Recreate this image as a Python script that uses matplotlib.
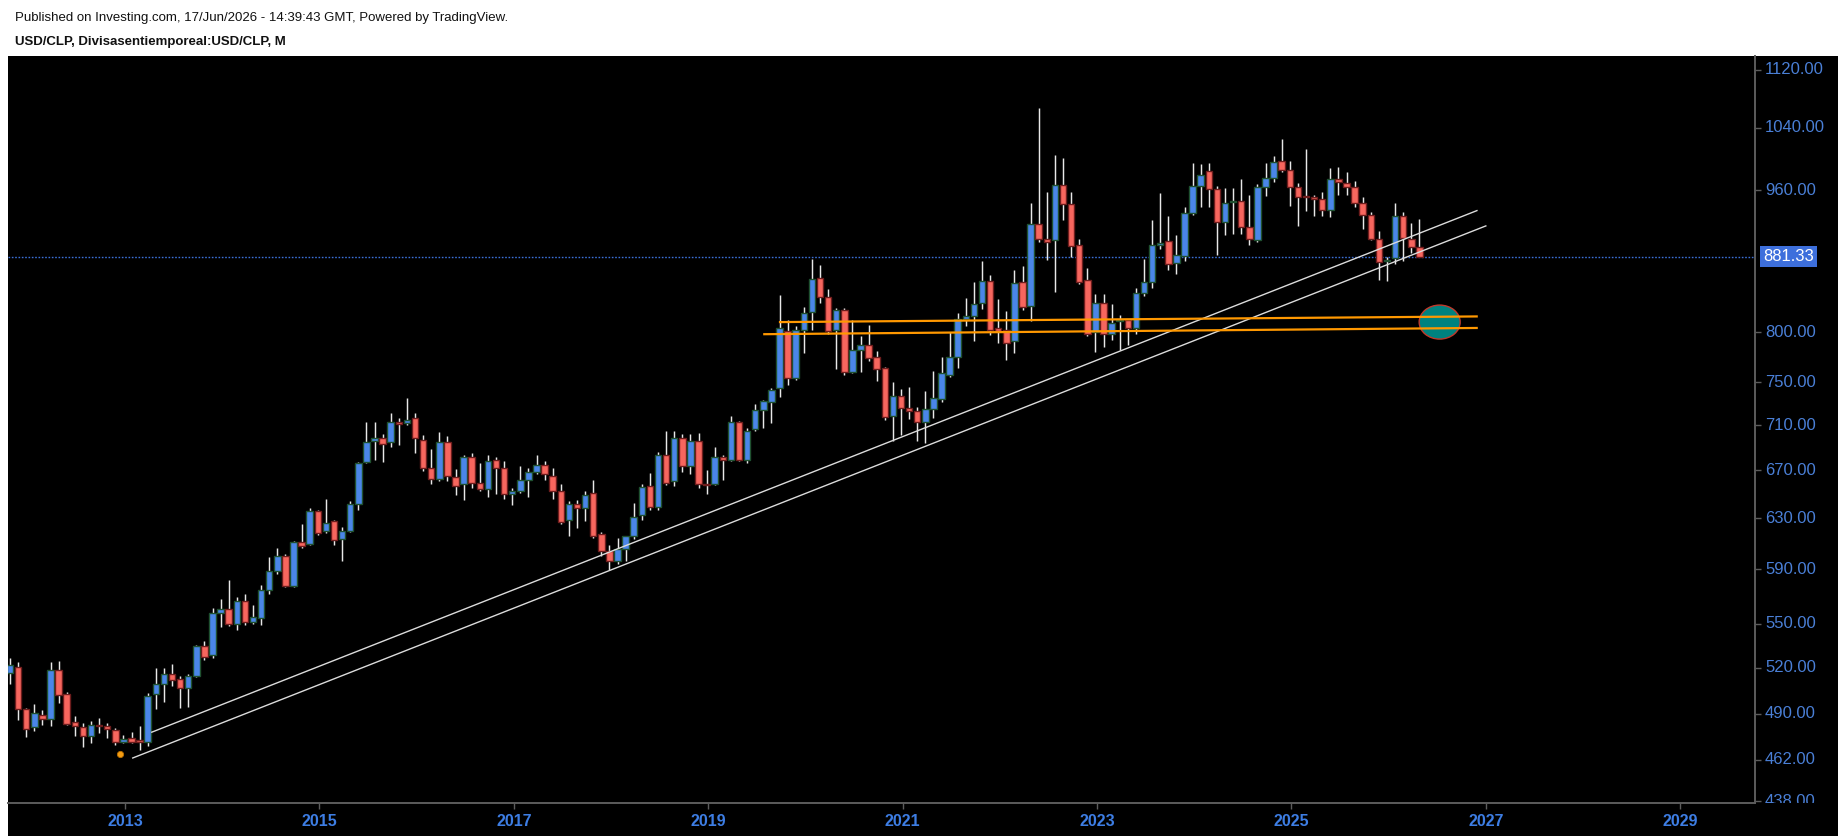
import numpy as np
import pandas as pd
import matplotlib
matplotlib.use("Agg")
import matplotlib.pyplot as plt
from matplotlib.patches import Rectangle, Ellipse
from matplotlib.transforms import blended_transform_factory, Bbox, TransformedBbox
from matplotlib.ticker import NullLocator, NullFormatter, FixedLocator

plt.rcParams['font.family'] = ['Liberation Sans', 'DejaVu Sans']

# ---------------- data (monthly USD/CLP candles) ----------------
months = pd.period_range('2011-11', periods=175, freq='M')

open_ = [516.5, 520.5, 492.8, 481.7, 489.5, 486.5, 518.7, 502.8, 485.1, 481.7, 476.2, 483.1, 482.6, 479.9,
         472.6, 475.2, 473.6, 472.6, 502.4, 509.4, 515.4, 512.6, 506.5, 514.2,
         534.5, 528.2, 557.6, 560.9, 550.1, 566.2, 551.2, 553.9, 574.1, 588.4,
         599.9, 577.4, 610.8, 609.5, 635.5, 619.5, 627.6, 613.6, 620.0, 641.6,
         677.4, 695.5, 698.0, 694.3, 713.0, 712.0, 716.4, 696.7, 672.2, 662.8,
         694.6, 664.2, 658.2, 681.8, 659.1, 654.1, 678.5, 672.2, 650.0, 652.6,
         661.9, 668.3, 674.5, 665.3, 651.9, 628.2, 641.6, 638.3, 650.6, 617.2,
         604.3, 596.3, 605.4, 615.3, 632.2, 656.6, 639.2, 683.3, 660.5, 698.4,
         673.7, 695.8, 658.0, 658.0, 681.8, 679.0, 712.4, 679.0, 706.3, 724.1,
         731.6, 744.4, 800.8, 753.7, 802.3, 821.0, 857.8, 836.5, 802.3, 823.0,
         760.4, 781.3, 786.7, 774.7, 764.4, 718.4, 737.3, 725.7, 723.2, 713.0,
         724.7, 734.0, 757.4, 774.7, 813.4, 816.2, 830.0, 854.7, 804.0, 802.3,
         790.4, 853.2, 827.0, 918.6, 902.0, 900.5, 966.5, 942.5, 894.2, 854.9,
         800.0, 830.6, 798.2, 811.3, 812.0, 804.0, 840.7, 853.5, 894.2, 898.8,
         874.0, 882.3, 932.6, 965.2, 983.9, 961.8, 921.0, 945.0, 946.0, 916.0,
         900.5, 963.5, 974.5, 996.0, 985.0, 963.6, 952.3, 951.0, 948.5, 935.8,
         974.0, 968.6, 963.5, 943.8, 930.0, 901.0, 876.5, 879.7, 928.6, 901.3,
         891.8]

high = [526.6, 523.4, 493.5, 496.4, 492.4, 523.8, 524.7, 504.0, 488.6, 484.1, 485.4, 487.5, 484.1, 481.4,
        477.0, 478.9, 482.7, 503.6, 519.8, 519.8, 522.7, 514.6, 515.7, 535.5,
        538.2, 561.0, 568.0, 581.7, 569.5, 571.8, 563.3, 578.4, 599.4, 606.3,
        602.0, 611.5, 625.1, 638.3, 636.5, 645.9, 628.5, 623.0, 644.0, 677.4,
        712.7, 712.7, 701.9, 721.0, 716.4, 735.5, 721.0, 701.3, 688.4, 703.5,
        700.4, 671.0, 683.6, 685.0, 675.8, 683.6, 681.4, 678.3, 655.0, 673.8,
        672.2, 683.6, 678.3, 672.2, 658.5, 643.7, 644.5, 652.4, 661.4, 618.7,
        609.0, 614.0, 616.0, 642.4, 658.5, 667.6, 685.7, 704.8, 704.8, 702.0,
        701.9, 702.8, 670.4, 689.9, 683.3, 718.4, 714.0, 707.2, 729.5, 733.0,
        745.0, 839.5, 812.7, 806.0, 826.5, 878.5, 872.0, 845.0, 825.0, 825.0,
        812.7, 795.5, 807.6, 780.3, 765.2, 749.9, 743.6, 745.8, 726.5, 742.0,
        761.2, 774.7, 799.9, 819.7, 835.4, 852.7, 876.5, 860.4, 835.0, 822.0,
        866.5, 871.3, 944.0, 1067.0, 957.0, 1004.0, 1000.0, 957.0, 901.5, 868.7,
        840.0, 840.0, 829.5, 818.0, 813.4, 846.4, 878.5, 923.9, 956.0, 928.6,
        905.8, 939.0, 994.0, 993.0, 994.0, 964.5, 962.3, 962.8, 974.0, 954.0,
        967.5, 994.0, 1003.0, 1024.5, 996.5, 969.0, 1012.0, 954.0, 957.0, 988.0,
        988.5, 982.5, 971.5, 951.7, 933.0, 911.0, 880.7, 944.0, 933.7, 920.0,
        925.0]

low = [508.9, 486.0, 475.8, 479.3, 483.0, 482.4, 496.7, 483.0, 476.2, 469.7, 471.9, 477.8, 475.3, 471.0,
       472.0, 472.0, 467.8, 470.1, 492.8, 497.6, 507.8, 493.4, 494.3, 513.5,
       525.0, 526.5, 547.7, 548.5, 545.5, 549.1, 550.0, 549.1, 571.8, 586.2,
       576.5, 576.8, 606.0, 608.5, 616.5, 618.1, 609.0, 596.0, 619.0, 636.9,
       676.0, 678.4, 677.0, 690.0, 692.4, 710.0, 685.2, 669.3, 658.5, 661.0,
       660.5, 648.8, 644.5, 655.0, 652.0, 647.0, 650.0, 645.3, 641.0, 651.0,
       647.0, 667.0, 662.0, 645.3, 625.4, 615.8, 622.2, 627.6, 614.0, 600.0,
       589.7, 594.0, 596.0, 613.0, 628.8, 637.0, 637.0, 657.0, 656.2, 668.0,
       666.4, 655.0, 650.0, 657.0, 661.4, 678.0, 678.0, 676.4, 705.0, 707.2,
       712.0, 736.0, 747.5, 752.0, 779.0, 802.0, 830.0, 798.0, 763.0, 757.0,
       758.7, 760.0, 771.3, 751.2, 714.8, 696.0, 700.6, 715.4, 696.0, 694.0,
       716.0, 731.0, 755.0, 763.6, 806.0, 791.0, 823.6, 797.0, 788.5, 772.0,
       778.5, 822.5, 811.0, 898.0, 877.7, 842.0, 924.0, 881.0, 851.0, 796.0,
       780.0, 784.3, 792.0, 781.3, 787.0, 798.0, 838.0, 847.0, 890.0, 866.5,
       862.0, 876.0, 930.0, 939.0, 939.0, 882.7, 906.0, 907.5, 907.5, 895.0,
       898.0, 953.0, 970.0, 983.0, 940.0, 917.0, 935.0, 929.0, 929.0, 927.0,
       954.5, 953.4, 939.0, 913.0, 900.0, 855.5, 854.0, 873.0, 876.0, 885.0,
       881.3]

close = [521.4, 492.8, 480.7, 490.3, 486.5, 518.7, 501.8, 483.6, 482.3, 476.2, 482.9, 482.5, 480.3, 472.6,
         474.6, 472.6, 472.6, 501.5, 509.4, 515.4, 511.5, 506.5, 514.2, 534.5,
         527.3, 557.6, 560.9, 550.1, 566.2, 551.2, 554.7, 574.1, 588.4, 599.9,
         577.4, 610.8, 608.2, 635.5, 618.1, 626.3, 612.8, 620.0, 641.4, 676.0,
         694.3, 698.0, 692.6, 713.0, 710.7, 714.8, 698.0, 672.2, 662.8, 694.6,
         664.9, 656.2, 681.8, 658.9, 654.1, 677.6, 672.2, 650.0, 652.6, 661.9,
         668.0, 674.5, 666.7, 651.9, 626.7, 641.6, 638.3, 649.2, 615.8, 604.3,
         596.3, 605.2, 615.3, 631.2, 655.6, 639.2, 683.3, 659.1, 698.4, 673.7,
         695.8, 657.8, 657.0, 681.8, 679.0, 712.4, 679.0, 705.0, 723.4, 731.8,
         742.9, 803.7, 753.7, 802.3, 819.7, 856.5, 836.5, 801.0, 823.0, 760.4,
         781.3, 786.7, 773.6, 762.7, 717.2, 737.3, 725.7, 723.2, 713.0, 724.7,
         734.9, 759.0, 775.2, 813.4, 816.2, 829.3, 853.7, 802.3, 800.8, 788.8,
         851.5, 825.8, 918.6, 901.2, 898.2, 966.5, 942.5, 893.0, 853.3, 798.0,
         830.6, 798.2, 808.9, 812.5, 804.0, 840.7, 853.5, 894.2, 897.0, 873.2,
         883.0, 932.6, 965.2, 978.2, 961.8, 921.0, 944.3, 946.0, 916.0, 901.0,
         963.5, 974.5, 994.7, 985.0, 963.6, 952.0, 951.0, 948.5, 935.8, 974.0,
         969.4, 963.5, 943.8, 930.0, 902.0, 875.0, 877.3, 928.6, 902.3, 891.8,
         881.33]

last_price = 881.33
price_ticks = [1120, 1040, 960, 800, 750, 710, 670, 630, 590, 550, 520, 490, 462]
clipped_tick = 438
years = [2013, 2015, 2017, 2019, 2021, 2023, 2025, 2027, 2029]

# drawings (x in months since Jan 2013, y in price)
white_upper_x, white_upper_y = [3.5, 167.1], [478.6, 935.0]
white_lower_x, white_lower_y = [1.15, 168.2], [463.0, 916.8]
orange_upper_x, orange_upper_y = [81.06, 167.07], [810.3, 816.2]
orange_lower_x, orange_lower_y = [79.12, 167.07], [797.8, 804.2]
ellipse_center = (162.5, 810.3)
marker_point = (-0.42, 465.2)

title1 = "Published on Investing.com, 17/Jun/2026 - 14:39:43 GMT, Powered by TradingView."
title2 = "USD/CLP, Divisasentiemporeal:USD/CLP, M"

# ---------------- figure ----------------
W, H = 1838, 836
fig = plt.figure(figsize=(W / 100, H / 100), dpi=100, facecolor='white')

# black panel (chart + axis area)
fig.add_artist(Rectangle((8 / W, 0), 1 - 8 / W, (H - 56) / H, transform=fig.transFigure,
                         facecolor='black', edgecolor='none', zorder=0))

ax_l, ax_r, ax_t, ax_b = 8, 1755, 56, 803
ax = fig.add_axes([ax_l / W, (H - ax_b) / H, (ax_r - ax_l) / W, (ax_b - ax_t) / H])
ax.set_facecolor('black')

base = pd.Period('2013-01', freq='M')
k = np.array([(m - base).n for m in months], dtype=float)
o = np.array(open_); h = np.array(high); l = np.array(low); c = np.array(close)
up = c >= o

# wicks
ax.vlines(k, l, h, colors='#e8e8e8', linewidth=1.05, zorder=2)
# bodies
bottom = np.minimum(o, c)
height = np.maximum(np.abs(c - o), 0.4)
fill = np.where(up, '#4a86e8', '#f7665e')
edge = np.where(up, '#1f5130', '#6e1d1d')
ax.bar(k, height, bottom=bottom, width=0.8, color=fill, edgecolor=edge,
       linewidth=1.0, zorder=3)

# drawings
ax.plot(white_upper_x, white_upper_y, color='#dcdcdc', lw=1.0, zorder=4)
ax.plot(white_lower_x, white_lower_y, color='#dcdcdc', lw=1.0, zorder=4)
ax.plot(marker_point[0], marker_point[1], marker='o', ms=4.5, mfc='#f39c12', mec='#b86e00',
        mew=0.6, zorder=4)

ax.axhline(last_price, color='#3b6fd6', lw=1.0, ls=(0, (1.2, 1.2)), zorder=1)

ax.set_yscale('log')
ax.set_xlim(-14.25, 201.43)
ax.set_ylim(437.0, 1140.3)

# ellipse (in axes coordinates so it keeps its on-screen shape)
fig.canvas.draw()
cx, cy = ax.transAxes.inverted().transform(ax.transData.transform(ellipse_center))
ell = Ellipse((cx, cy), 41 / (ax_r - ax_l), 34 / (ax_b - ax_t), transform=ax.transAxes,
              facecolor='#00827f', edgecolor='#c0392b', lw=1.0, zorder=4.5)
ax.add_patch(ell)
ax.plot(orange_upper_x, orange_upper_y, color='#ff9800', lw=1.6, zorder=5)
ax.plot(orange_lower_x, orange_lower_y, color='#ff9800', lw=1.6, zorder=5)

# spines
for s in ['top', 'left']:
    ax.spines[s].set_visible(False)
for s in ['right', 'bottom']:
    ax.spines[s].set_color('#5c5c5c')
    ax.spines[s].set_linewidth(1.4)

# y axis
ax.yaxis.tick_right()
ax.yaxis.set_minor_locator(NullLocator())
ax.yaxis.set_minor_formatter(NullFormatter())
ax.yaxis.set_major_locator(FixedLocator(price_ticks + [clipped_tick]))
ax.yaxis.set_major_formatter(NullFormatter())
ax.tick_params(axis='y', which='major', length=4, width=1, color='#5c5c5c', right=True, left=False)

lab_tr = blended_transform_factory(ax.transAxes, ax.transData)
xlab = 1 + 10 / (ax_r - ax_l)
clipbox = TransformedBbox(Bbox([[1.0, 0.0], [1.2, 1.0]]), ax.transAxes)
for p in price_ticks + [clipped_tick]:
    t = ax.text(xlab, p, f"{p:.2f}", transform=lab_tr, ha='left', va='center',
                fontsize=12.0, color='#4a7fd6', clip_on=True)
    t.set_clip_box(clipbox)

ax.text(1 + 8 / (ax_r - ax_l), last_price, f"{last_price:.2f}", transform=lab_tr,
        ha='left', va='center', fontsize=12.0, color='white', zorder=6,
        bbox=dict(boxstyle='square,pad=0.2', fc='#3d6fdc', ec='none'))

# x axis
ax.set_xticks([(y - 2013) * 12 + 0.2 for y in years])
ax.set_xticklabels([str(y) for y in years], fontsize=11.5, fontweight='bold', color='#3d7de3')
ax.tick_params(axis='x', length=4, width=1, color='#5c5c5c', pad=4)

# header
fig.text(15 / W, 1 - 18.5 / H, title1, ha='left', va='center', fontsize=9.5, color='#111111')
fig.text(15 / W, 1 - 42 / H, title2, ha='left', va='center', fontsize=9.5,
         fontweight='bold', color='#111111')

fig.savefig('out.png', dpi=100, facecolor='white')
